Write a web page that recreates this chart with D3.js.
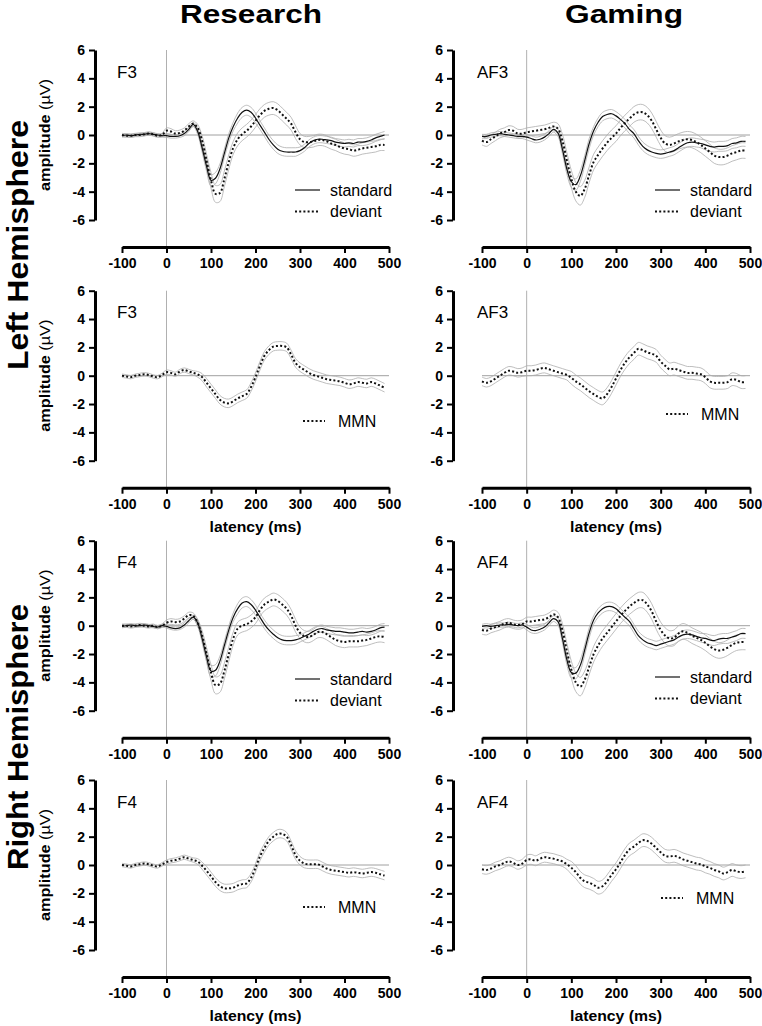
<!DOCTYPE html>
<html><head><meta charset="utf-8">
<script src="https://cdn.jsdelivr.net/npm/d3@7"></script>
<style>body{margin:0;background:#fff} svg text{font-family:"Liberation Sans",Arial,sans-serif}</style>
</head><body><svg id="c" width="762" height="1026"></svg>
<script>
// ---------- data ----------
const latency = [-100,-90,-80,-70,-60,-50,-40,-30,-20,-10,0,10,20,30,40,50,60,70,80,90,100,110,120,130,140,150,160,170,180,190,200,210,220,230,240,250,260,270,280,290,300,310,320,330,340,350,360,370,380,390,400,410,420,430,440,450,460,470,480,490];
const yTicks = [-6,-4,-2,0,2,4,6];
const xTicks = [-100,0,100,200,300,400,500];
const columnTitles = ["Research","Gaming"];
const hemisphereLabels = ["Left Hemisphere","Right Hemisphere"];
const channelLabels = ["F3","AF3","F3","AF3","F4","AF4","F4","AF4"];

const stdF3 = [-0.05,0,-0.05,0,0.05,0.05,0.1,0.05,0,-0.05, -0.05,-0.1,-0.1,-0.05,0.1,0.4,0.75,0.25,-0.9,-2.2, -3.2,-3.05,-2.4,-1.3,-0.2,0.6,1.2,1.6,1.75,1.6, 1.2,0.7,0.2,-0.3,-0.7,-1.0,-1.15,-1.2,-1.2,-1.2, -1.1,-0.9,-0.6,-0.4,-0.3,-0.3,-0.35,-0.4,-0.5,-0.55, -0.6,-0.55,-0.6,-0.5,-0.5,-0.45,-0.35,-0.2,-0.1,0.0];
const devF3 = [0,-0.05,-0.05,0,0,0.05,0.1,0.05,-0.05,0, 0.3,0.25,0.1,0.15,0.3,0.6,0.8,0.5,-0.4,-1.8, -3.2,-4.15,-4.1,-3.1,-1.9,-0.9,-0.3,0.05,0.3,0.6, 1.0,1.4,1.7,1.85,1.9,1.75,1.45,1.15,0.8,0.2, -0.3,-0.5,-0.5,-0.45,-0.35,-0.35,-0.45,-0.6,-0.7,-0.85, -0.95,-1.0,-1.1,-1.05,-0.95,-0.9,-0.85,-0.8,-0.7,-0.7];
const stdAF3 = [-0.1,-0.1,0,0.05,0.1,0.05,0,-0.05,-0.1,-0.1, -0.15,-0.25,-0.35,-0.3,-0.15,0.1,0.4,0.15,-1.0,-2.4, -3.3,-3.5,-2.9,-1.8,-0.6,0.3,0.9,1.3,1.45,1.5, 1.35,1.1,0.8,0.4,0.1,-0.4,-0.8,-1.05,-1.2,-1.3, -1.35,-1.3,-1.2,-1.1,-0.9,-0.7,-0.55,-0.5,-0.55,-0.6, -0.7,-0.8,-0.85,-0.8,-0.8,-0.75,-0.6,-0.55,-0.45,-0.45];
const devAF3 = [-0.4,-0.5,-0.3,-0.1,0.1,0.2,0.35,0.3,0.1,0.1, 0.2,0.25,0.3,0.35,0.4,0.5,0.6,0.45,-0.4,-1.8, -3.1,-4.0,-4.3,-3.8,-2.8,-1.9,-1.4,-0.95,-0.55,-0.2, 0.1,0.5,0.85,1.15,1.45,1.6,1.6,1.4,1.0,0.4, -0.2,-0.6,-0.7,-0.6,-0.45,-0.35,-0.3,-0.35,-0.5,-0.7, -0.95,-1.2,-1.45,-1.55,-1.55,-1.45,-1.3,-1.2,-1.1,-1.1];
const stdF4 = [-0.05,0,0.05,0,0,0.05,0,-0.05,-0.1,0, -0.05,-0.15,-0.2,-0.15,0.05,0.35,0.6,0.2,-0.9,-2.2, -3.2,-3.15,-2.5,-1.4,-0.3,0.6,1.2,1.6,1.7,1.5, 1.1,0.6,0.1,-0.3,-0.6,-0.85,-1.0,-1.05,-1.05,-1.0, -0.9,-0.75,-0.6,-0.4,-0.25,-0.2,-0.3,-0.35,-0.4,-0.4, -0.45,-0.5,-0.5,-0.45,-0.4,-0.45,-0.4,-0.3,-0.15,-0.1];
const devF4 = [0,0,-0.05,0,0.05,0,-0.05,0,-0.1,0, 0.2,0.3,0.25,0.3,0.5,0.75,0.7,0.2,-0.7,-2.0, -3.3,-4.2,-4.1,-3.2,-2.0,-0.9,-0.2,0,0.1,0.3, 0.6,1.1,1.5,1.7,1.85,1.75,1.5,1.2,0.7,0.0, -0.5,-0.75,-0.8,-0.65,-0.45,-0.45,-0.6,-0.8,-1.0,-1.1, -1.15,-1.1,-1.1,-1.1,-1.05,-1.0,-0.9,-0.8,-0.75,-0.8];
const stdAF4 = [-0.05,0,-0.05,0,0.05,0.05,0.1,0.05,0,0.05, -0.1,-0.3,-0.35,-0.25,-0.1,0.2,0.5,0.3,-0.9,-2.4, -3.3,-3.35,-2.8,-1.7,-0.5,0.4,0.9,1.2,1.35,1.35, 1.2,0.9,0.6,0.3,-0.2,-0.7,-1.0,-1.2,-1.3,-1.4, -1.3,-1.2,-1.1,-1.0,-0.8,-0.65,-0.6,-0.65,-0.75,-0.85, -0.9,-1.0,-1.05,-0.95,-0.9,-0.9,-0.8,-0.7,-0.55,-0.55];
const devAF4 = [-0.3,-0.35,-0.2,-0.1,0,0.15,0.2,0.1,0.05,0.1, 0.3,0.3,0.35,0.4,0.45,0.6,0.8,0.6,-0.3,-1.8, -3.1,-4.0,-4.3,-3.8,-2.9,-2.0,-1.4,-0.9,-0.5,-0.1, 0.3,0.7,1.05,1.35,1.6,1.8,1.8,1.5,1.0,0.3, -0.3,-0.7,-0.9,-0.85,-0.55,-0.4,-0.5,-0.7,-0.85,-1.0, -1.2,-1.45,-1.65,-1.75,-1.7,-1.55,-1.35,-1.2,-1.15,-1.15];

const mmnF3 = [0,-0.05,-0.1,0,0.05,0.1,0.05,-0.05,-0.1,0.05, 0.25,0.2,0.1,0.3,0.4,0.3,0.2,0.1,-0.1,-0.5, -0.9,-1.3,-1.7,-1.9,-1.95,-1.8,-1.6,-1.45,-1.3,-0.8, -0.1,0.7,1.4,1.8,2.05,2.1,2.1,2.0,1.5,0.9, 0.6,0.4,0.2,0.05,-0.05,-0.15,-0.25,-0.3,-0.35,-0.4, -0.5,-0.6,-0.55,-0.45,-0.5,-0.55,-0.45,-0.55,-0.7,-0.85];
const mmnAF3 = [-0.4,-0.5,-0.4,-0.2,0,0.2,0.35,0.3,0.2,0.25, 0.35,0.35,0.4,0.5,0.55,0.45,0.35,0.25,0.15,0.05, -0.15,-0.4,-0.6,-0.85,-1.1,-1.3,-1.5,-1.6,-1.3,-0.8, -0.2,0.4,0.9,1.3,1.6,1.9,1.8,1.65,1.55,1.4, 1.0,0.7,0.45,0.5,0.4,0.3,0.2,0.2,0.15,0.1, -0.1,-0.4,-0.5,-0.5,-0.5,-0.45,-0.25,-0.3,-0.45,-0.45];
const mmnF4 = [0,-0.05,-0.1,0,0.05,0.1,0.05,-0.05,-0.1,0.05, 0.2,0.3,0.35,0.45,0.55,0.45,0.35,0.25,-0.05,-0.4, -0.8,-1.2,-1.5,-1.65,-1.65,-1.6,-1.45,-1.35,-1.3,-0.9, -0.2,0.6,1.2,1.7,2.0,2.2,2.2,2.0,1.4,0.7, 0.3,0.1,0.05,0.05,0.05,-0.1,-0.25,-0.35,-0.4,-0.45, -0.5,-0.55,-0.5,-0.55,-0.6,-0.55,-0.5,-0.55,-0.65,-0.75];
const mmnAF4 = [-0.3,-0.35,-0.25,-0.1,0,0.15,0.25,0.15,0,0.1, 0.35,0.4,0.3,0.45,0.55,0.5,0.45,0.35,0.25,0.05, -0.2,-0.5,-0.9,-1.15,-1.25,-1.4,-1.6,-1.5,-1.15,-0.7, -0.3,0.2,0.7,1.1,1.3,1.55,1.75,1.7,1.5,1.2, 0.9,0.65,0.6,0.65,0.55,0.4,0.3,0.2,0.1,0.05, -0.1,-0.2,-0.35,-0.45,-0.6,-0.5,-0.35,-0.45,-0.5,-0.45];

// standard error of the mean (band half-widths)
const semStdResearch = [0.1,0.1,0.1,0.1,0.1,0.1,0.1,0.1,0.1,0.1, 0.12,0.12,0.12,0.12,0.15,0.15,0.15,0.2,0.3,0.35, 0.4,0.4,0.35,0.3,0.3,0.3,0.35,0.35,0.35,0.35, 0.35,0.3,0.3,0.3,0.3,0.3,0.3,0.3,0.3,0.3, 0.25,0.25,0.25,0.25,0.25,0.25,0.25,0.25,0.25,0.25, 0.25,0.25,0.25,0.25,0.25,0.25,0.25,0.25,0.25,0.25];
const semDevResearch = [0.12,0.12,0.12,0.12,0.12,0.12,0.12,0.12,0.12,0.12, 0.2,0.2,0.2,0.2,0.2,0.2,0.2,0.25,0.35,0.45, 0.55,0.6,0.6,0.55,0.5,0.45,0.45,0.45,0.45,0.45, 0.45,0.45,0.45,0.45,0.45,0.45,0.45,0.45,0.45,0.45, 0.4,0.4,0.4,0.4,0.4,0.4,0.4,0.4,0.4,0.4, 0.4,0.4,0.4,0.4,0.4,0.4,0.4,0.4,0.4,0.4];
const semStdGaming = [0.15,0.15,0.15,0.15,0.15,0.15,0.15,0.15,0.15,0.15, 0.2,0.2,0.2,0.2,0.2,0.2,0.2,0.25,0.3,0.35, 0.4,0.4,0.4,0.35,0.35,0.3,0.3,0.3,0.3,0.3, 0.3,0.3,0.3,0.3,0.3,0.3,0.3,0.3,0.3,0.3, 0.3,0.3,0.3,0.3,0.3,0.3,0.3,0.3,0.3,0.3, 0.35,0.35,0.35,0.35,0.35,0.35,0.35,0.35,0.35,0.35];
const semDevGaming = [0.3,0.3,0.3,0.3,0.3,0.3,0.3,0.3,0.3,0.3, 0.3,0.3,0.3,0.3,0.3,0.3,0.3,0.35,0.45,0.55, 0.6,0.65,0.65,0.6,0.55,0.55,0.55,0.55,0.55,0.55, 0.55,0.55,0.55,0.55,0.55,0.55,0.55,0.55,0.55,0.55, 0.55,0.55,0.55,0.55,0.55,0.55,0.55,0.55,0.55,0.55, 0.55,0.55,0.55,0.55,0.55,0.55,0.55,0.55,0.55,0.55];
const semMmnResearch = [0.12,0.12,0.12,0.12,0.12,0.12,0.12,0.12,0.12,0.12, 0.15,0.15,0.15,0.15,0.15,0.15,0.15,0.2,0.25,0.3, 0.3,0.3,0.3,0.3,0.3,0.3,0.3,0.3,0.3,0.3, 0.3,0.3,0.3,0.3,0.3,0.3,0.3,0.3,0.3,0.3, 0.3,0.3,0.3,0.3,0.3,0.3,0.3,0.3,0.3,0.3, 0.3,0.3,0.3,0.3,0.3,0.3,0.3,0.3,0.3,0.3];
const semMmnGaming = [0.3,0.3,0.3,0.3,0.3,0.3,0.3,0.3,0.3,0.3, 0.35,0.35,0.35,0.35,0.35,0.35,0.35,0.35,0.35,0.35, 0.45,0.45,0.45,0.45,0.45,0.45,0.45,0.45,0.45,0.45, 0.45,0.45,0.45,0.45,0.45,0.45,0.45,0.45,0.45,0.45, 0.45,0.45,0.45,0.45,0.45,0.45,0.45,0.45,0.45,0.45, 0.45,0.45,0.45,0.45,0.45,0.45,0.45,0.45,0.45,0.45];

const panels = [
  {row:0,col:0,series:[{name:"standard",mean:stdF3,sem:semStdResearch,dotted:false},{name:"deviant",mean:devF3,sem:semDevResearch,dotted:true}]},
  {row:0,col:1,series:[{name:"standard",mean:stdAF3,sem:semStdGaming,dotted:false},{name:"deviant",mean:devAF3,sem:semDevGaming,dotted:true}]},
  {row:1,col:0,series:[{name:"MMN",mean:mmnF3,sem:semMmnResearch,dotted:true}]},
  {row:1,col:1,series:[{name:"MMN",mean:mmnAF3,sem:semMmnGaming,dotted:true}]},
  {row:2,col:0,series:[{name:"standard",mean:stdF4,sem:semStdResearch,dotted:false},{name:"deviant",mean:devF4,sem:semDevResearch,dotted:true}]},
  {row:2,col:1,series:[{name:"standard",mean:stdAF4,sem:semStdGaming,dotted:false},{name:"deviant",mean:devAF4,sem:semDevGaming,dotted:true}]},
  {row:3,col:0,series:[{name:"MMN",mean:mmnF4,sem:semMmnResearch,dotted:true}]},
  {row:3,col:1,series:[{name:"MMN",mean:mmnAF4,sem:semMmnGaming,dotted:true}]}
];

// ---------- layout ----------
const colLayout = [{axisX:95,left:122,right:389,titleX:251,labelX:117},{axisX:453,left:482,right:750,titleX:624,labelX:477}];
const rowTops = [50,290.7,540.7,780];
const plotH = 170, xAxisGap = 197;
const legendPos = [[295,190],[655,190],[303,421],[666,414],[295,679],[655,677],[303,907],[661,898]];
const hemiCenters = [245,737];
const DOT = "2,2.2";

const svg = d3.select("#c");

columnTitles.forEach((t,i)=>{
  svg.append("text").attr("x",colLayout[i].titleX).attr("y",23).attr("text-anchor","middle")
    .attr("font-size",25.5).attr("font-weight","bold")
    .attr("textLength", i===0?142:118).attr("lengthAdjust","spacingAndGlyphs").text(t);
});
hemisphereLabels.forEach((t,i)=>{
  svg.append("text").attr("transform",`translate(28,${hemiCenters[i]}) rotate(-90)`)
    .attr("text-anchor","middle").attr("font-size",30).attr("font-weight","bold")
    .attr("textLength", i===0?250:266).attr("lengthAdjust","spacingAndGlyphs").text(t);
});

panels.forEach((p,pi)=>{
  const c = colLayout[p.col], top = rowTops[p.row];
  const x = d3.scaleLinear().domain([-100,500]).range([c.left,c.right]);
  const y = d3.scaleLinear().domain([-6,6]).range([top+plotH, top]);
  const g = svg.append("g");

  g.append("line").attr("x1",x(-100)).attr("x2",x(500)).attr("y1",y(0)).attr("y2",y(0))
    .attr("stroke","#a0a0a0").attr("stroke-width",1);
  g.append("line").attr("x1",x(0)).attr("x2",x(0)).attr("y1",y(6)).attr("y2",top+xAxisGap)
    .attr("stroke","#b0b0b0").attr("stroke-width",1);

  const line = d3.line().x((d,i)=>x(latency[i])).y(d=>y(d)).curve(d3.curveCatmullRom.alpha(0.5));

  p.series.forEach(s=>{
    const upper = s.mean.map((m,i)=>m+s.sem[i]);
    const lower = s.mean.map((m,i)=>m-s.sem[i]);
    [upper,lower].forEach(b=>{
      g.append("path").attr("d",line(b)).attr("fill","none").attr("stroke","#adadad").attr("stroke-width",0.8);
    });
  });
  p.series.forEach(s=>{
    const path = g.append("path").attr("d",line(s.mean)).attr("fill","none").attr("stroke","#111");
    if (s.dotted) path.attr("stroke-width",2).attr("stroke-dasharray",DOT);
    else path.attr("stroke-width",1.2);
  });

  // axes
  const ya = g.append("g").attr("transform",`translate(${c.axisX},0)`)
    .call(d3.axisLeft(y).tickValues(yTicks).tickSize(6).tickPadding(4).tickSizeOuter(0).tickFormat(d=>String(d)));
  const xa = g.append("g").attr("transform",`translate(0,${top+xAxisGap})`)
    .call(d3.axisBottom(x).tickValues(xTicks).tickSize(6).tickPadding(5).tickSizeOuter(0).tickFormat(d=>String(d)));
  [ya,xa].forEach(a=>{
    a.select(".domain").attr("stroke","#000").attr("stroke-width",3);
    a.selectAll(".tick line").attr("stroke","#000").attr("stroke-width",2);
    a.selectAll(".tick text").attr("fill","#000").attr("font-size",14).attr("font-weight","bold")
      .attr("font-family","'Liberation Sans',Arial,sans-serif");
  });

  // channel label
  g.append("text").attr("x",c.labelX).attr("y",top+27.5).attr("font-size",17).text(channelLabels[pi]);

  // legend
  const [lx,ly] = legendPos[pi];
  const len = p.series.length>1 ? 25 : 22;
  p.series.forEach((s,si)=>{
    const yy = ly + si*21.5;
    const l = g.append("line").attr("x1",lx).attr("x2",lx+len).attr("y1",yy).attr("y2",yy).attr("stroke","#111");
    if (s.dotted) l.attr("stroke-width",2).attr("stroke-dasharray",DOT); else l.attr("stroke-width",1.2);
    g.append("text").attr("x",lx+35).attr("y",yy).attr("dy","0.36em")
      .attr("font-size",16).text(s.name);
  });

  // axis titles
  if (p.row%2===1) {
    g.append("text").attr("x",(c.left+c.right)/2).attr("y",top+xAxisGap+44).attr("text-anchor","middle")
      .attr("font-size",14.5).attr("font-weight","bold").attr("textLength",92).attr("lengthAdjust","spacingAndGlyphs")
      .text("latency (ms)");
  }
  if (p.col===0) {
    const t = g.append("text").attr("transform",`translate(50,${top+plotH/2}) rotate(-90)`)
      .attr("text-anchor","middle").attr("font-size",14).attr("textLength",112).attr("lengthAdjust","spacingAndGlyphs");
    t.append("tspan").attr("font-weight","bold").text("amplitude ");
    t.append("tspan").text("(µV)");
  }
});
</script></body></html>
